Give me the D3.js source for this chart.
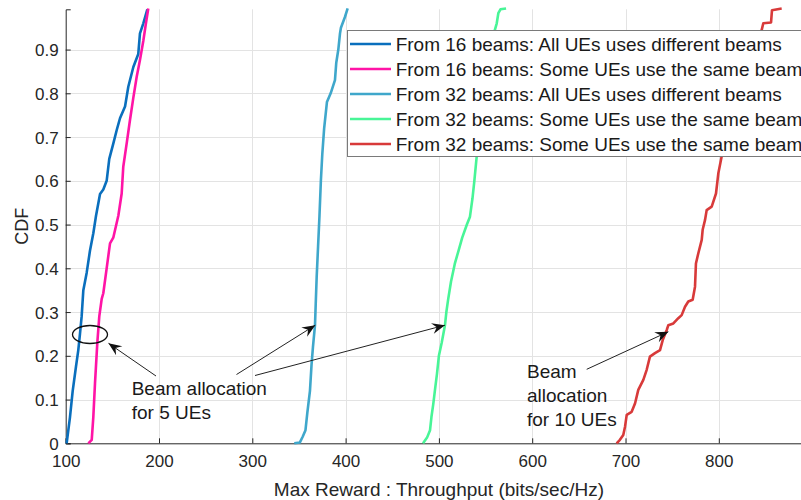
<!DOCTYPE html>
<html>
<head>
<meta charset="utf-8">
<script src="https://cdn.jsdelivr.net/npm/d3@7"></script>
<style>
  html, body { margin: 0; padding: 0; background: #fff; }
  svg { display: block; font-family: "Liberation Sans", Arial, Helvetica, sans-serif; }
</style>
</head>
<body>
<svg id="chart" width="801" height="500"></svg>
<script>
// Empirical CDFs of the max reward (throughput) per beam-allocation scheme: [throughput, CDF]
const from16AllDifferent = [
  [101,0],[104.6,0.06],[107.5,0.12],[111,0.175],[113.5,0.213],[115.3,0.25],[117.1,0.29],
  [118.9,0.35],[122.5,0.39],[126,0.44],[129.6,0.48],[132.5,0.52],[136.8,0.57],[140.3,0.58],
  [143.9,0.6],[146.7,0.65],[151,0.685],[154.7,0.716],[158.2,0.743],[163.6,0.77],[167.1,0.815],
  [172.5,0.86],[177.8,0.89],[179.6,0.937],[183.2,0.96],[187.5,0.992]
];
const from16SomeSame = [
  [124.3,0],[127.9,0.008],[129.6,0.06],[131.4,0.137],[133.9,0.23],[136,0.29],[138.6,0.33],
  [140.3,0.343],[143.9,0.4],[147.5,0.457],[151,0.47],[156.4,0.52],[160,0.571],[161.7,0.632],
  [165.4,0.686],[168.9,0.739],[172.5,0.79],[176.1,0.838],[179.6,0.876],[183.2,0.92],
  [186,0.96],[188.5,0.994]
];
const from32AllDifferent = [
  [345,0],[351,0.002],[354,0.015],[357,0.03],[359,0.07],[361.8,0.12],[363.5,0.18],[365,0.22],
  [367.2,0.27],[368,0.32],[369,0.38],[370.5,0.45],[372,0.52],[373.5,0.6],[375,0.66],[377,0.72],
  [380,0.78],[384,0.8],[388.6,0.83],[390,0.87],[392.2,0.9],[394,0.937],[395,0.95],
  [399.4,0.975],[402.2,0.994]
];
const from32SomeSame5 = [
  [483,0],[487.3,0.013],[490.5,0.03],[492,0.06],[494,0.09],[495.8,0.122],[498,0.16],[500,0.2],
  [503,0.23],[506.5,0.27],[508,0.3],[510,0.33],[513,0.37],[517,0.41],[521,0.44],[525,0.47],
  [530,0.5],[533.3,0.518],[536,0.56],[538,0.6],[540.5,0.655],[544,0.72],[548,0.78],[552,0.84],
  [556,0.9],[560,0.945],[562,0.96],[563.7,0.983],[566,0.992],[572,0.994]
];
const from32SomeSame10 = [
  [690.5,0],[694,0.008],[697.6,0.019],[699.5,0.038],[701.3,0.065],[706.6,0.072],[710.2,0.091],
  [713.7,0.122],[719.1,0.145],[722.7,0.168],[726.2,0.198],[731.6,0.206],[737,0.213],
  [739.9,0.236],[744.2,0.259],[745.9,0.27],[751.3,0.274],[756.6,0.286],[760.2,0.293],
  [763.8,0.312],[767.3,0.324],[772,0.328],[774.5,0.358],[775.5,0.411],[778,0.434],
  [781.7,0.465],[782.7,0.488],[785.2,0.51],[787,0.533],[792.4,0.541],[797,0.571],[799.5,0.617],
  [803,0.655],[810,0.72],[820,0.8],[832,0.88],[846,0.945],[847.7,0.96],[856,0.962],
  [857,0.99],[867.4,0.994]
];

const seriesNames = [
  "From 16 beams: All UEs uses different beams",
  "From 16 beams: Some UEs use the same beam",
  "From 32 beams: All UEs uses different beams",
  "From 32 beams: Some UEs use the same beam",
  "From 32 beams: Some UEs use the same beam"
];
const seriesColors = ["#0a6fbd", "#ff14a6", "#3fa7cb", "#48f597", "#d83a3a"];
const seriesData = [from16AllDifferent, from16SomeSame, from32AllDifferent, from32SomeSame5, from32SomeSame10];

const xTicks = [100, 200, 300, 400, 500, 600, 700, 800];
const yTicks = [0, 0.1, 0.2, 0.3, 0.4, 0.5, 0.6, 0.7, 0.8, 0.9];
const yTickLabels = ["0", "0.1", "0.2", "0.3", "0.4", "0.5", "0.6", "0.7", "0.8", "0.9"];
const xLabel = "Max Reward : Throughput (bits/sec/Hz)";
const yLabel = "CDF";

const note5Lines = ["Beam allocation", "for 5 UEs"];
const note10Lines = ["Beam", "allocation", "for 10 UEs"];

const svg = d3.select("#chart");
// x limits run to 900; the right part of the axes falls outside the 801px canvas
const x = d3.scaleLinear().domain([100, 900]).range([65.7, 812.1]);
const y = d3.scaleLinear().domain([0, 0.992]).range([443.3, 9.3]);
const [x0, x1] = x.range();
const [yb, yt] = y.range();

// grid
const grid = svg.append("g").attr("stroke", "#e3e3e3").attr("stroke-width", 1);
grid.selectAll("line.gx").data(xTicks.slice(1)).join("line")
  .attr("x1", d => Math.round(x(d)) + 0.5).attr("x2", d => Math.round(x(d)) + 0.5)
  .attr("y1", yt).attr("y2", yb);
grid.selectAll("line.gy").data(yTicks.slice(1)).join("line")
  .attr("x1", x0).attr("x2", x1)
  .attr("y1", d => Math.round(y(d)) + 0.5).attr("y2", d => Math.round(y(d)) + 0.5);

// axes (ticks point inward)
const xAxis = d3.axisBottom(x).tickValues(xTicks).tickSize(-5).tickPadding(12).tickFormat(d3.format("d"));
const yAxis = d3.axisLeft(y).tickValues(yTicks).tickSize(-5).tickPadding(7)
  .tickFormat((d, i) => yTickLabels[i]);

const gx = svg.append("g").attr("transform", `translate(0,${yb})`).call(xAxis);
const gy = svg.append("g").attr("transform", `translate(${x0},0)`).call(yAxis);
[gx, gy].forEach(g => {
  g.select(".domain").attr("stroke", "#262626").attr("stroke-width", 1);
  g.selectAll(".tick line").attr("stroke", "#262626");
  g.selectAll(".tick text").attr("fill", "#262626").attr("font-size", 17)
    .attr("font-family", "Liberation Sans, Arial, sans-serif");
});
gy.selectAll(".tick text").attr("dy", "0.36em");
gx.selectAll(".tick text").attr("dy", "0.71em");

// axis titles
svg.append("text").attr("x", x(500)).attr("y", 496).attr("text-anchor", "middle")
  .attr("font-size", 19).attr("fill", "#262626").text(xLabel);
svg.append("text").attr("transform", `translate(27.5,${(yb + yt) / 2}) rotate(-90)`)
  .attr("text-anchor", "middle").attr("font-size", 18).attr("fill", "#262626").text(yLabel);

// CDF curves
const line = d3.line().x(d => x(d[0])).y(d => y(d[1]));
svg.append("g").selectAll("path").data(seriesData).join("path")
  .attr("d", line).attr("fill", "none")
  .attr("stroke", (d, i) => seriesColors[i]).attr("stroke-width", 2.6)
  .attr("stroke-linejoin", "round");

// legend
const legend = svg.append("g");
legend.append("rect").attr("x", 347.5).attr("y", 30.5).attr("width", 480).attr("height", 126)
  .attr("fill", "#fff").attr("stroke", "#7a7a7a").attr("stroke-width", 1);
const rowY = i => 44 + i * 25;
seriesNames.forEach((name, i) => {
  legend.append("line").attr("x1", 350).attr("x2", 391).attr("y1", rowY(i)).attr("y2", rowY(i))
    .attr("stroke", seriesColors[i]).attr("stroke-width", 2.6);
  legend.append("text").attr("x", 395.7).attr("y", rowY(i) + 6.6)
    .attr("font-size", 19).attr("fill", "#1a1a1a").text(name);
});

// annotation arrows
const defs = svg.append("defs");
defs.append("marker").attr("id", "head").attr("viewBox", "-14 -6 16 12")
  .attr("refX", 0).attr("refY", 0).attr("markerWidth", 16).attr("markerHeight", 12)
  .attr("markerUnits", "userSpaceOnUse").attr("orient", "auto")
  .append("path").attr("d", "M0,0 L-13,-5.5 L-8.5,0 L-13,5.5 Z").attr("fill", "#111");

const arrow = (xa, ya, xb, yb2) => svg.append("line")
  .attr("x1", xa).attr("y1", ya).attr("x2", xb).attr("y2", yb2)
  .attr("stroke", "#222").attr("stroke-width", 1).attr("marker-end", "url(#head)");

// ring around the two 16-beam curves
svg.append("ellipse").attr("cx", 90).attr("cy", 334.5).attr("rx", 17.5).attr("ry", 9)
  .attr("fill", "none").attr("stroke", "#111").attr("stroke-width", 1.3);

arrow(156, 376, 108.5, 343.3);
arrow(236.5, 374.5, x(367.5), y(0.27));
arrow(255, 375.5, x(506.5), y(0.27));
arrow(586.7, 369.3, x(745.9), y(0.255));

const notes = svg.append("g").attr("font-size", 19).attr("fill", "#1a1a1a");
note5Lines.forEach((t, i) => notes.append("text").attr("x", 131.7).attr("y", 394.5 + i * 24.5).text(t));
note10Lines.forEach((t, i) => notes.append("text").attr("x", 527).attr("y", 377.5 + i * 24).text(t));
</script>
</body>
</html>
